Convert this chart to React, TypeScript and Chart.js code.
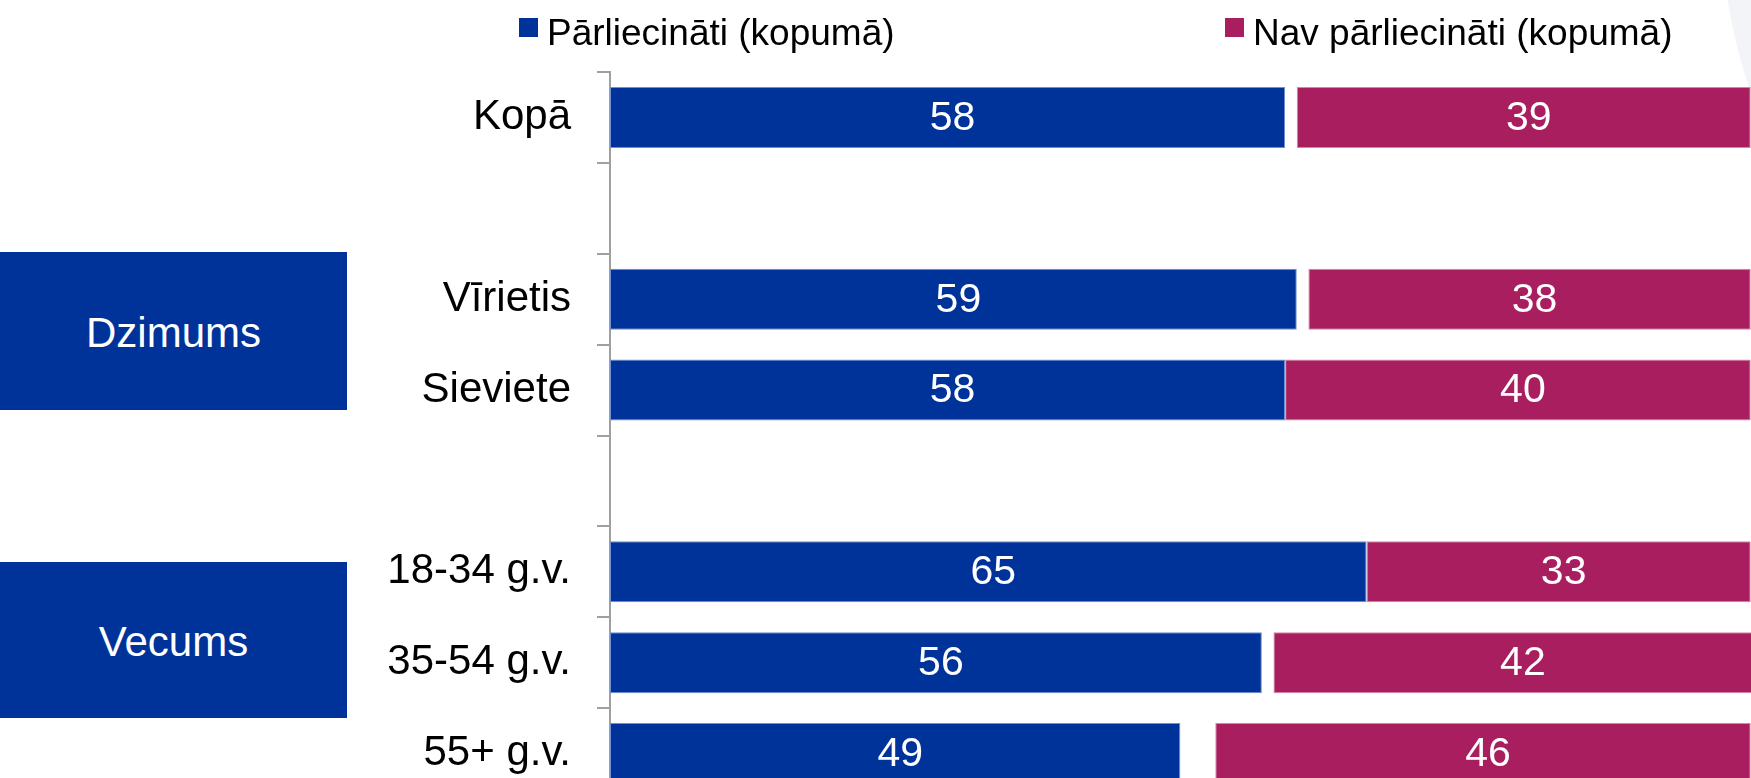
import React, { useEffect, useRef } from 'react';
import { Chart, registerables } from 'chart.js';

Chart.register(...registerables);

// ---- data ----
const categories = ['Kopā', '', 'Vīrietis', 'Sieviete', '', '18-34 g.v.', '35-54 g.v.', '55+ g.v.'];
const confident = [58, null, 59, 58, null, 65, 56, 49];
const hardToSay = [1, null, 1, 0, null, 0, 1, 3];
const notConfident = [39, null, 38, 40, null, 33, 42, 46];
const seriesNames = ['Pārliecināti (kopumā)', 'Grūti pateikt', 'Nav pārliecināti (kopumā)'];
const groupLabels = ['Dzimums', 'Vecums'];
const xTicks = [0, 100];

const BLUE = '#003399';
const MAGENTA = '#A91E5F';
const FONT = "'Liberation Sans', Arial, Helvetica, sans-serif";

const valuePlugin = {
  id: 'barValues',
  afterDatasetsDraw(chart: any) {
    const ctx = chart.ctx;
    ctx.save();
    ctx.font = `41px ${FONT}`;
    ctx.fillStyle = '#ffffff';
    ctx.textAlign = 'center';
    ctx.textBaseline = 'middle';
    [0, 2].forEach((di) => {
      const ds = chart.data.datasets[di];
      const meta = chart.getDatasetMeta(di);
      meta.data.forEach((el: any, i: number) => {
        const v = ds.data[i];
        if (v == null || v === 0) return;
        const p = el.getProps(['x', 'y', 'base'], true);
        ctx.fillText(String(v), (p.x + p.base) / 2 + 5, p.y + 1);
      });
    });
    ctx.restore();
  },
};

const legendPlugin = {
  id: 'topLegend',
  afterDraw(chart: any) {
    const ctx = chart.ctx;
    const xs = [519, 1225];
    ctx.save();
    ctx.font = `37px ${FONT}`;
    ctx.textAlign = 'left';
    ctx.textBaseline = 'alphabetic';
    [0, 2].forEach((di, k) => {
      const ds = chart.data.datasets[di];
      ctx.fillStyle = ds.backgroundColor;
      ctx.fillRect(xs[k], 18, 19, 19);
      ctx.fillStyle = '#000000';
      ctx.fillText(ds.label, xs[k] + 28, 44.5);
    });
    ctx.restore();
  },
};

export default function App() {
  const ref = useRef<HTMLCanvasElement | null>(null);

  useEffect(() => {
    if (!ref.current) return;
    const chart = new Chart(ref.current, {
      type: 'bar',
      data: {
        labels: categories,
        datasets: [
          {
            label: seriesNames[0],
            data: confident,
            backgroundColor: BLUE,
            borderColor: '#6f8fd0',
            borderWidth: 1,
            borderSkipped: false,
          },
          {
            label: seriesNames[1],
            data: hardToSay,
            backgroundColor: 'rgba(255,255,255,0)',
            borderWidth: 0,
          },
          {
            label: seriesNames[2],
            data: notConfident,
            backgroundColor: MAGENTA,
            borderColor: '#d486a8',
            borderWidth: 1,
            borderSkipped: false,
          },
        ],
      } as any,
      options: {
        indexAxis: 'y',
        responsive: false,
        animation: false,
        maintainAspectRatio: false,
        layout: { padding: { top: 72, left: 0, right: 0, bottom: 0 } },
        datasets: { bar: { barPercentage: 0.671, categoryPercentage: 1 } },
        plugins: {
          legend: { display: false },
          tooltip: { enabled: false },
        },
        scales: {
          x: {
            stacked: true,
            display: false,
            min: xTicks[0],
            max: xTicks[1],
          },
          y: {
            stacked: true,
            offset: true,
            afterFit: (scale: any) => {
              scale.width = 610;
              scale.paddingTop = 0;
              scale.paddingBottom = 0;
            },
            border: { display: true, color: '#a0a0a0', width: 2 },
            grid: {
              display: true,
              offset: true,
              drawOnChartArea: false,
              drawTicks: true,
              tickLength: 13,
              color: '#a0a0a0',
              lineWidth: 2,
            },
            ticks: {
              color: '#000000',
              padding: 26,
              font: { family: FONT, size: 42 },
              autoSkip: false,
            },
          },
        },
      } as any,
      plugins: [valuePlugin, legendPlugin],
    });
    return () => chart.destroy();
  }, []);

  const boxStyle = (top: number, height: number): React.CSSProperties => ({
    position: 'absolute',
    left: 0,
    top,
    width: 347,
    height,
    boxSizing: 'border-box',
    paddingTop: 4,
    background: BLUE,
    color: '#ffffff',
    font: `42px ${FONT}`,
    display: 'flex',
    alignItems: 'center',
    justifyContent: 'center',
    zIndex: 2,
  });

  return (
    <div
      style={{
        position: 'fixed',
        left: 0,
        top: 0,
        width: 1751,
        height: 778,
        overflow: 'hidden',
        background: '#ffffff',
      }}
    >
      <div
        style={{
          position: 'absolute',
          left: 1722,
          top: -575,
          width: 1000,
          height: 1000,
          borderRadius: '50%',
          background: '#f3f4f8',
          zIndex: 0,
        }}
      />
      <canvas
        ref={ref}
        width={1774}
        height={799}
        style={{ position: 'absolute', left: 0, top: 0, display: 'block', zIndex: 1 }}
      />
      <div style={boxStyle(252, 158)}>{groupLabels[0]}</div>
      <div style={boxStyle(562, 156)}>{groupLabels[1]}</div>
    </div>
  );
}
